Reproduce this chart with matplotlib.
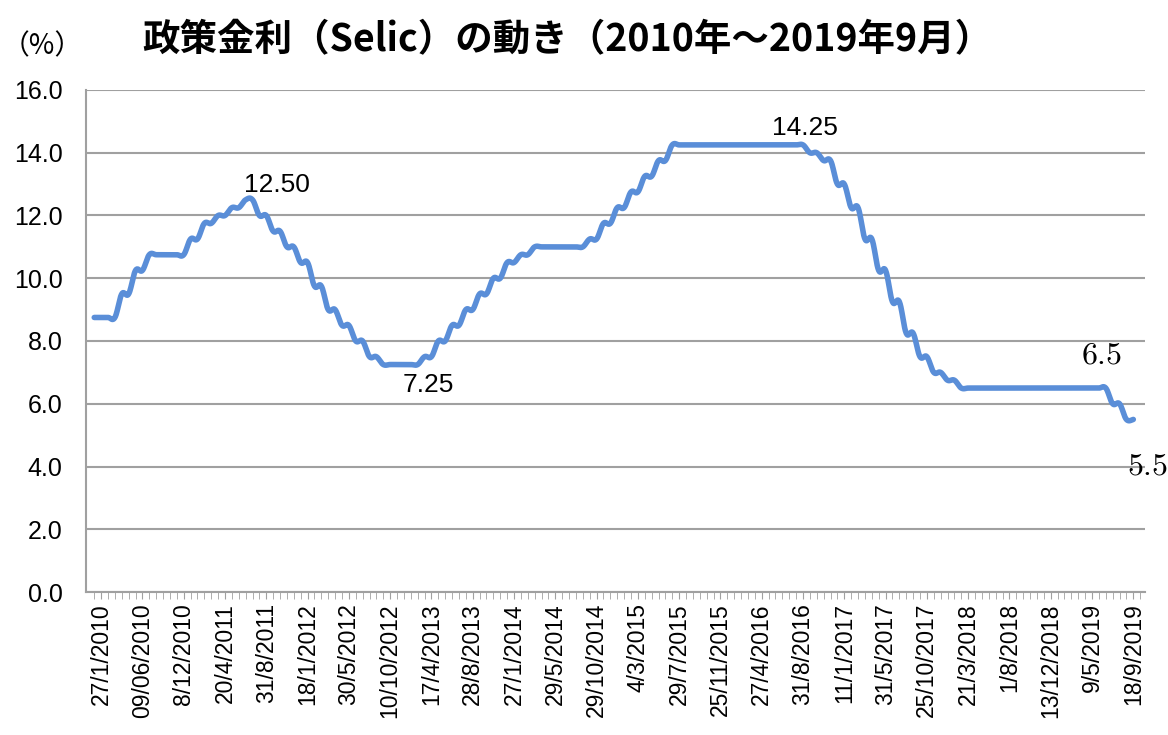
import matplotlib
matplotlib.use("Agg")
import matplotlib.pyplot as plt
import numpy as np

# Selic target rate, each level with the number of observations it was held for
rates = [8.75, 9.5, 10.25, 10.75, 11.25, 11.75, 12.0, 12.25, 12.5, 12.0, 11.5, 11.0,
         10.5, 9.75, 9.0, 8.5, 8.0, 7.5, 7.25, 7.5, 8.0, 8.5, 9.0, 9.5, 10.0, 10.5,
         10.75, 11.0, 11.25, 11.75, 12.25, 12.75, 13.25, 13.75, 14.25, 14.0, 13.75,
         13.0, 12.25, 11.25, 10.25, 9.25, 8.25, 7.5, 7.0, 6.75, 6.5, 6.0, 5.5]
periods = [4, 2, 2, 6, 2, 2, 2, 2, 2, 2, 2, 2,
           2, 2, 2, 2, 2, 2, 6, 2, 2, 2, 2, 2, 2, 2,
           2, 8, 2, 2, 2, 2, 2, 2, 20, 2, 2,
           2, 2, 2, 2, 2, 2, 2, 2, 2, 22, 2, 2]

date_labels = ["27/1/2010", "09/06/2010", "8/12/2010", "20/4/2011", "31/8/2011",
               "18/1/2012", "30/5/2012", "10/10/2012", "17/4/2013", "28/8/2013",
               "27/1/2014", "29/5/2014", "29/10/2014", "4/3/2015", "29/7/2015",
               "25/11/2015", "27/4/2016", "31/8/2016", "11/1/2017", "31/5/2017",
               "25/10/2017", "21/3/2018", "1/8/2018", "13/12/2018", "9/5/2019",
               "18/9/2019"]

y = np.repeat(rates, periods).astype(float)
x = np.arange(len(y), dtype=float)

# smoothed line like Excel (bezier through the points)
k = 0.38
px = np.concatenate([[x[0]], x, [x[-1]]])
py = np.concatenate([[y[0]], y, [y[-1]]])
t = np.linspace(0, 1, 20)[:, None]
sx, sy = [], []
for i in range(1, len(px) - 2):
    p0 = np.array([px[i - 1], py[i - 1]])
    p1 = np.array([px[i], py[i]])
    p2 = np.array([px[i + 1], py[i + 1]])
    p3 = np.array([px[i + 2], py[i + 2]])
    c1 = p1 + (p2 - p0) * k / 2
    c2 = p2 - (p3 - p1) * k / 2
    b = ((1 - t) ** 3) * p1 + 3 * ((1 - t) ** 2) * t * c1 + 3 * (1 - t) * t ** 2 * c2 + t ** 3 * p2
    sx.extend(b[:, 0])
    sy.extend(b[:, 1])

plt.rcParams['font.family'] = ['Liberation Sans', 'DejaVu Sans']
plt.rcParams['mathtext.fontset'] = 'cm'

fig = plt.figure(figsize=(11.68, 7.35), dpi=100)
ax = fig.add_axes([86 / 1168, 1 - 592 / 735, (1145 - 86) / 1168, (592 - 90) / 735])

ax.plot(sx, sy, color='#5A8ED8', lw=4.0, solid_capstyle='round', zorder=3)

ax.set_ylim(0, 16)
ax.set_xlim(-1.2, 152.7)
ax.set_yticks(np.arange(0, 17, 2))
ax.set_yticklabels(["%.1f" % v for v in np.arange(0, 17, 2)], fontsize=18)
ax.yaxis.grid(True, color='#A0A0A0', lw=1.5)
ax.set_axisbelow(True)
ax.tick_params(axis='y', length=0, pad=17)

label_pos = np.arange(len(date_labels)) * 6 + 1
ax.set_xticks(label_pos)
ax.set_xticklabels(date_labels, rotation=90, fontsize=16.5)
ax.set_xticks(np.arange(0, 153), minor=True)
ax.tick_params(axis='x', which='both', length=5, color='#A0A0A0', pad=3)

for s in ['top', 'right']:
    ax.spines[s].set_visible(False)
for s in ['left', 'bottom']:
    ax.spines[s].set_color('#A0A0A0')
    ax.spines[s].set_linewidth(1.5)

ax.text(26.5, 12.97, "12.50", fontsize=19, ha='center', va='center')
ax.text(48.6, 6.6, "7.25", fontsize=19, ha='center', va='center')
ax.text(103.3, 14.79, "14.25", fontsize=19, ha='center', va='center')
ax.text(146.4, 7.55, "$6.5$", fontsize=23, ha='center', va='center')
ax.text(153.1, 4.0, "$5.5$", fontsize=23, ha='center', va='center', clip_on=False)

fig.text(567 / 1168, 1 - 40 / 735, "政策金利（Selic）の動き（2010年～2019年9月）",
         fontsize=27, fontweight='bold', ha='center', va='center',
         family=['Noto Sans CJK JP', 'DejaVu Sans'])
fig.text(42 / 1168, 1 - 46 / 735, "（%）", fontsize=20, ha='center', va='center',
         family=['Noto Sans CJK JP', 'DejaVu Sans'])

fig.savefig("out.png", dpi=100)
